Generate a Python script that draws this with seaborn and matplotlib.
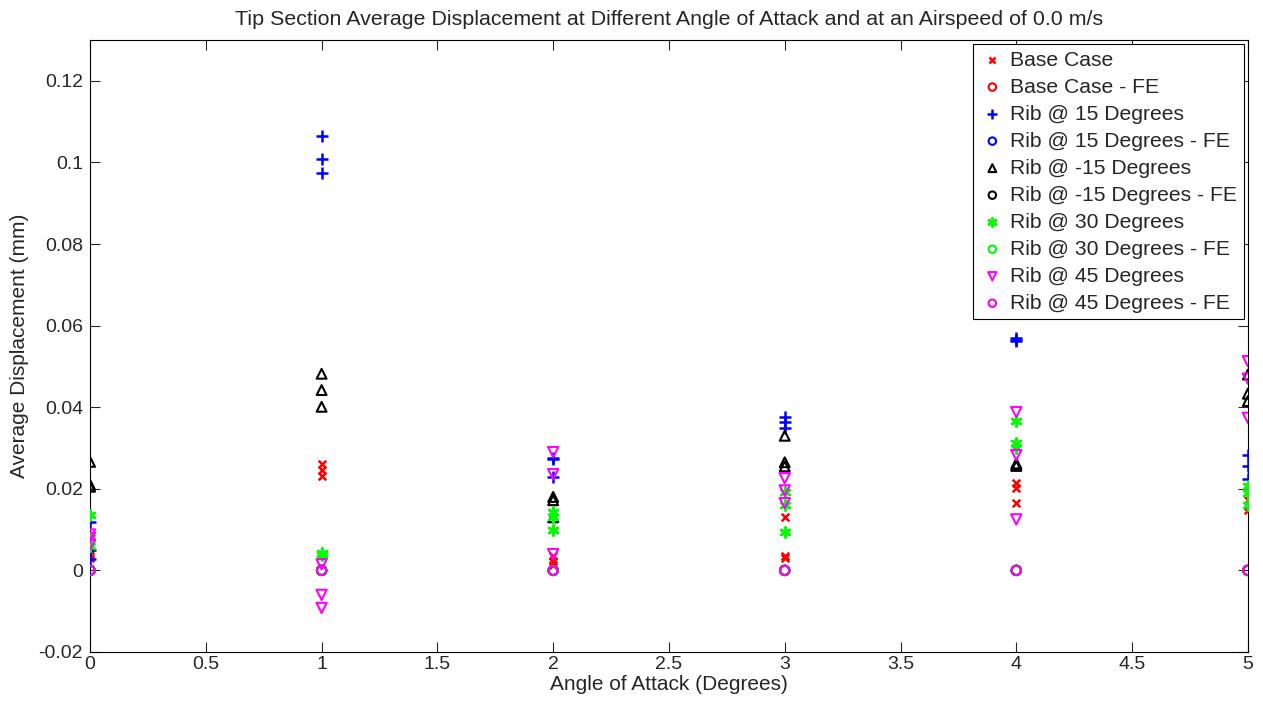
import numpy as np
import pandas as pd
import matplotlib
matplotlib.use("Agg")
import matplotlib.pyplot as plt
import seaborn as sns

# ---- data ----
aoa = [0, 1, 2, 3, 4, 5]

base_case = [[0.0040, 0.0050, 0.0030],
             [0.0262, 0.0246, 0.0232],
             [0.0023, 0.0012, 0.0035],
             [0.0130, 0.0036, 0.0030],
             [0.0213, 0.0203, 0.0164],
             [0.0172, 0.0158, 0.0147]]
rib_15 = [[0.0118, 0.0050, 0.0028],
          [0.1065, 0.1008, 0.0975],
          [0.0276, 0.0228, 0.0272],
          [0.0376, 0.0363, 0.0350],
          [0.0570, 0.0565, 0.0562],
          [0.0284, 0.0257, 0.0225]]
rib_m15 = [[0.0266, 0.0210, 0.0205],
           [0.0482, 0.0442, 0.0401],
           [0.0180, 0.0172, 0.0130],
           [0.0330, 0.0265, 0.0255],
           [0.0262, 0.0256, 0.0258],
           [0.0480, 0.0433, 0.0415]]
rib_30 = [[0.0137, 0.0080, 0.0060],
          [0.0042, 0.0040, 0.0038],
          [0.0142, 0.0130, 0.0098],
          [0.0192, 0.0160, 0.0093],
          [0.0366, 0.0312, 0.0300],
          [0.0206, 0.0190, 0.0160]]
rib_45 = [[0.0088, 0.0064, 0.0080],
          [0.0015, -0.0060, -0.0092],
          [0.0290, 0.0236, 0.0040],
          [0.0226, 0.0196, 0.0165],
          [0.0388, 0.0283, 0.0125],
          [0.0513, 0.0470, 0.0374]]
fe_zero = [0.0, 0.0, 0.0, 0.0, 0.0, 0.0]

series_names = ["Base Case", "Base Case - FE",
                "Rib @ 15 Degrees", "Rib @ 15 Degrees - FE",
                "Rib @ -15 Degrees", "Rib @ -15 Degrees - FE",
                "Rib @ 30 Degrees", "Rib @ 30 Degrees - FE",
                "Rib @ 45 Degrees", "Rib @ 45 Degrees - FE"]

x_ticks = [0, 0.5, 1, 1.5, 2, 2.5, 3, 3.5, 4, 4.5, 5]
x_tick_labels = ["0", "0.5", "1", "1.5", "2", "2.5", "3", "3.5", "4", "4.5", "5"]
y_ticks = [-0.02, 0, 0.02, 0.04, 0.06, 0.08, 0.1, 0.12]
y_tick_labels = ["-0.02", "0", "0.02", "0.04", "0.06", "0.08", "0.1", "0.12"]

# ---- style ----
sns.set_style("white")
plt.rcParams['font.family'] = ['Liberation Sans', 'DejaVu Sans']

fig = plt.figure(figsize=(12.63, 7.05), dpi=100)
ax = fig.add_axes([0.0713, 0.0752, 0.9167, 0.8680])


def expand(values):
    xs, ys = [], []
    for a, vals in zip(aoa, values):
        for v in vals:
            xs.append(a)
            ys.append(v)
    return xs, ys


measured = [base_case, rib_15, rib_m15, rib_30, rib_45]
colors = ["#ff0000", "#0000ff", "#000000", "#00ff00", "#ff00ff"]
markers = ["x", "+", "^", (6, 2, 0), "v"]
sizes = [30, 70, 50, 55, 55]

for i, (vals, col, mk, sz) in enumerate(zip(measured, colors, markers, sizes)):
    xs, ys = expand(vals)
    if mk in ("^", "v"):
        sns.scatterplot(x=xs, y=ys, ax=ax, marker=mk, s=sz, color=col,
                        facecolor="none", edgecolor=col, linewidth=1.5,
                        label=series_names[2 * i], zorder=3)
    else:
        sns.scatterplot(x=xs, y=ys, ax=ax, marker=mk, s=sz, color=col,
                        linewidth=1.8, label=series_names[2 * i], zorder=3)
    sns.scatterplot(x=aoa, y=fe_zero, ax=ax, marker="o", s=45, color=col,
                    facecolor="none", edgecolor=col, linewidth=1.5,
                    label=series_names[2 * i + 1], zorder=3)

ax.set_xlim(0, 5)
ax.set_ylim(-0.02, 0.13)
ax.set_xticks(x_ticks)
ax.set_xticklabels(x_tick_labels)
ax.set_yticks(y_ticks)
ax.set_yticklabels(y_tick_labels)
ax.tick_params(direction="in", length=7, width=0.8, labelsize=14,
               top=True, right=True, bottom=True, left=True, pad=5)
ax.tick_params(axis="x", pad=3)
for sp in ax.spines.values():
    sp.set_visible(True)
    sp.set_color("black")
    sp.set_linewidth(0.8)

ax.set_xlabel("Angle of Attack (Degrees)", fontsize=15, labelpad=1)
ax.set_ylabel("Average Displacement (mm)", fontsize=15, labelpad=7)
ax.set_title("Tip Section Average Displacement at Different Angle of Attack and at an Airspeed of 0.0 m/s",
             fontsize=15.4, pad=11)

leg = ax.legend(loc="upper right", fontsize=15.2, fancybox=False, framealpha=1,
                edgecolor="black", borderaxespad=0.2, handletextpad=0.25,
                labelspacing=0.38, borderpad=0.3, handlelength=1.2, markerscale=0.8)
leg.get_frame().set_linewidth(0.8)

fig.savefig("out.png", dpi=100)
